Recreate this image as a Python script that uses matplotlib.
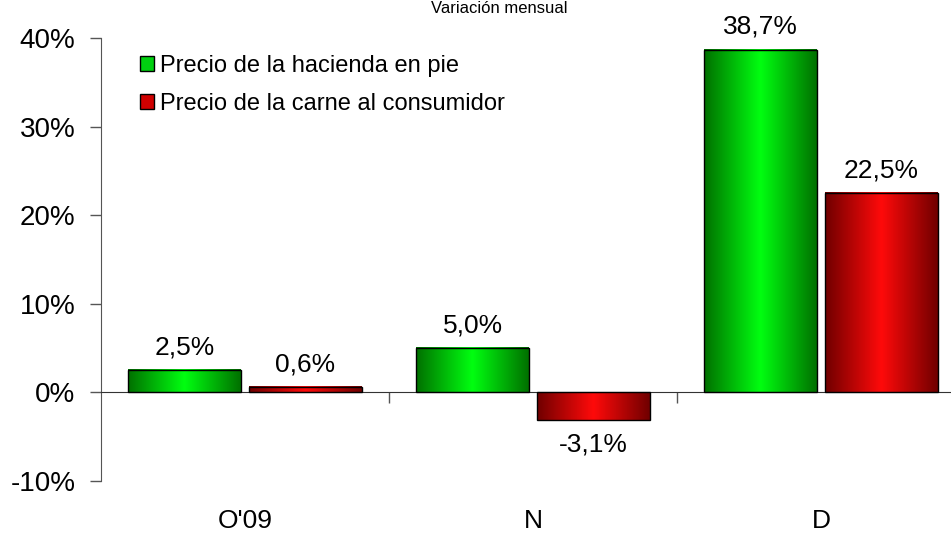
import matplotlib
matplotlib.use("Agg")
import matplotlib.pyplot as plt
import numpy as np
from matplotlib.colors import LinearSegmentedColormap

plt.rcParams['font.family'] = ['Liberation Sans', 'DejaVu Sans']

categories = ["O'09", "N", "D"]
series_names = ["Precio de la hacienda en pie", "Precio de la carne al consumidor"]
hacienda = [2.5, 5.0, 38.7]
carne = [0.6, -3.1, 22.5]
yticks = [-10, 0, 10, 20, 30, 40]

fig = plt.figure(figsize=(9.51, 5.37), dpi=100)
ax = fig.add_axes([101/951, 1-481/537, 1-101/951, (481-38)/537])

x = np.arange(len(categories))
w = 0.39
off = 0.21
green_cmap = LinearSegmentedColormap.from_list("g", ["#007000", "#00ff10", "#007000"])
red_cmap = LinearSegmentedColormap.from_list("r", ["#700000", "#ff0a0a", "#700000"])

grad = np.linspace(0, 1, 256).reshape(1, -1)
for vals, cmap, sign, name in [(hacienda, green_cmap, -1, series_names[0]), (carne, red_cmap, 1, series_names[1])]:
    bars = ax.bar(x + sign*off, vals, w, color='none', edgecolor='black', linewidth=1, zorder=3, label=name)
    for b, v in zip(bars, vals):
        x0, x1 = b.get_x(), b.get_x() + b.get_width()
        y0, y1 = min(0, v), max(0, v)
        ax.imshow(grad, cmap=cmap, aspect='auto', extent=[x0, x1, y0, y1], zorder=2, interpolation='bicubic')
        label = f"{v:.1f}%".replace('.', ',')
        if v >= 0:
            ax.text(b.get_x() + b.get_width()/2, v + 1.8, label, ha='center', va='baseline', fontsize=19)
        else:
            ax.text(b.get_x() + b.get_width()/2, v - 1.4, label, ha='center', va='top', fontsize=19)

ax.set_xlim(-0.5, -0.5 + 850/288)
ax.set_ylim(-10, 40)
ax.set_yticks(yticks)
ax.set_yticklabels([f"{t}%" for t in yticks], fontsize=20)
ax.tick_params(axis='y', direction='out', length=8, width=1, color='#555555', pad=10.5)
ax.set_xticks([0.5, 1.5])
ax.set_xticklabels([])
ax.tick_params(axis='x', direction='out', length=8, width=1, color='#555555')
for s in ['top', 'right']:
    ax.spines[s].set_visible(False)
ax.spines['bottom'].set_position(('data', 0))
ax.spines['left'].set_color('#555555')
ax.spines['bottom'].set_color('#333333')

trans = ax.get_xaxis_transform()
for xi, c in zip(x, categories):
    ax.text(xi, -0.09, c, transform=trans, ha='center', va='center', fontsize=19)

handles = [plt.Rectangle((0, 0), 1, 1, facecolor='#00d010', edgecolor='black'),
           plt.Rectangle((0, 0), 1, 1, facecolor='#d00000', edgecolor='black')]
leg = ax.legend(handles, series_names, loc='upper left', bbox_to_anchor=(0.026, 1.0), frameon=False,
                fontsize=17, handlelength=0.62, handleheight=0.62, handletextpad=0.25, labelspacing=0.7,
                borderaxespad=0.3)

fig.text(0.525, 0.999, "Variación mensual", ha='center', va='top', fontsize=12)

fig.savefig("out.png", dpi=100)
